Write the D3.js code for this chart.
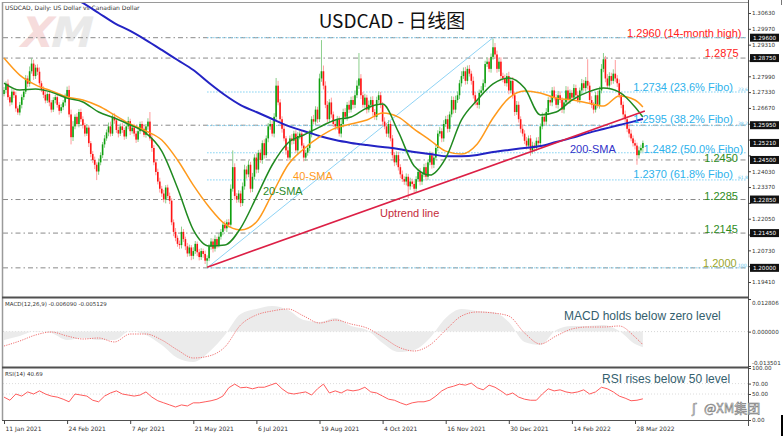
<!DOCTYPE html>
<html>
<head>
<meta charset="utf-8">
<script src="https://cdn.jsdelivr.net/npm/d3@7"></script>
<style>
  body { margin: 0; background: #fff; }
  svg { display: block; }
</style>
</head>
<body>
<div id="wrapper"></div>
<script>
// ---- data ----
// daily closes, bar 0 = 11 Jan 2021
const firstOpen = 1.2725;
const closes = [
  1.2742, 1.2768, 1.2712, 1.2690, 1.2735, 1.2720, 1.2665, 1.2648, 1.2680, 1.2712,
  1.2735, 1.2790, 1.2768, 1.2820, 1.2852, 1.2800, 1.2835, 1.2818, 1.2770, 1.2745,
  1.2722, 1.2698, 1.2725, 1.2690, 1.2660, 1.2700, 1.2712, 1.2680, 1.2655, 1.2670,
  1.2690, 1.2715, 1.2742, 1.2640, 1.2545, 1.2590, 1.2630, 1.2600, 1.2650, 1.2620,
  1.2595, 1.2560, 1.2585, 1.2520, 1.2475, 1.2450, 1.2430, 1.2402, 1.2440, 1.2470,
  1.2515, 1.2540, 1.2565, 1.2590, 1.2560, 1.2630, 1.2615, 1.2575, 1.2560, 1.2590,
  1.2575, 1.2548, 1.2590, 1.2612, 1.2570, 1.2585, 1.2560, 1.2535, 1.2570, 1.2600,
  1.2580, 1.2555, 1.2590, 1.2610, 1.2540, 1.2500, 1.2440, 1.2400, 1.2360, 1.2330,
  1.2310, 1.2285, 1.2335, 1.2300, 1.2280, 1.2190, 1.2150, 1.2125, 1.2100, 1.2095,
  1.2150, 1.2120, 1.2090, 1.2060, 1.2085, 1.2050, 1.2070, 1.2100, 1.2065, 1.2045,
  1.2070, 1.2058, 1.2030, 1.2040, 1.2090, 1.2110, 1.2080, 1.2120, 1.2095, 1.2130,
  1.2150, 1.2180, 1.2165, 1.2190, 1.2180, 1.2330, 1.2420, 1.2300, 1.2285, 1.2310,
  1.2270, 1.2340, 1.2410, 1.2390, 1.2430, 1.2330, 1.2380, 1.2460, 1.2410, 1.2480,
  1.2450, 1.2520, 1.2470, 1.2540, 1.2590, 1.2600, 1.2560, 1.2630, 1.2760, 1.2690,
  1.2620, 1.2580, 1.2540, 1.2490, 1.2460, 1.2540, 1.2530, 1.2560, 1.2490, 1.2550,
  1.2560, 1.2510, 1.2460, 1.2480, 1.2500, 1.2560, 1.2620, 1.2610, 1.2660, 1.2620,
  1.2790, 1.2820, 1.2760, 1.2680, 1.2620, 1.2690, 1.2640, 1.2600, 1.2590, 1.2620,
  1.2560, 1.2600, 1.2650, 1.2630, 1.2680, 1.2660, 1.2700, 1.2680, 1.2720, 1.2760,
  1.2790, 1.2720, 1.2680, 1.2710, 1.2660, 1.2680, 1.2700, 1.2650, 1.2630, 1.2700,
  1.2720, 1.2680, 1.2610, 1.2590, 1.2560, 1.2600, 1.2540, 1.2470, 1.2440, 1.2470,
  1.2420, 1.2390, 1.2370, 1.2360, 1.2380, 1.2340, 1.2360, 1.2350, 1.2330, 1.2370,
  1.2400, 1.2360, 1.2390, 1.2420, 1.2380, 1.2440, 1.2470, 1.2430, 1.2460, 1.2500,
  1.2560, 1.2570, 1.2540, 1.2600, 1.2620, 1.2580, 1.2640, 1.2700, 1.2660, 1.2700,
  1.2720, 1.2770, 1.2800, 1.2820, 1.2780, 1.2830, 1.2810, 1.2780, 1.2720, 1.2690,
  1.2680, 1.2730, 1.2740, 1.2770, 1.2850, 1.2860, 1.2830, 1.2880, 1.2920, 1.2890,
  1.2830, 1.2860, 1.2800, 1.2790, 1.2770, 1.2800, 1.2740, 1.2780, 1.2720, 1.2650,
  1.2680, 1.2620, 1.2580, 1.2560, 1.2530, 1.2510, 1.2540, 1.2490, 1.2510, 1.2500,
  1.2530, 1.2520, 1.2590, 1.2630, 1.2610, 1.2650, 1.2700, 1.2690, 1.2740, 1.2710,
  1.2680, 1.2720, 1.2700, 1.2660, 1.2690, 1.2740, 1.2700, 1.2730, 1.2710, 1.2750,
  1.2720, 1.2700, 1.2740, 1.2770, 1.2750, 1.2780, 1.2760, 1.2700, 1.2680, 1.2660,
  1.2720, 1.2680, 1.2740, 1.2830, 1.2870, 1.2790, 1.2760, 1.2800, 1.2780, 1.2810,
  1.2790, 1.2770, 1.2720, 1.2680, 1.2640, 1.2620, 1.2580, 1.2560, 1.2540, 1.2520,
  1.2510, 1.2470, 1.2490, 1.2500, 1.2521
];
// upper / lower shadows in pips
const wickHi = [
  12,10,18,8,14,10,15,9,12,11, 8,14,12,20,23,16,12,14,18,10, 12,15,8,14,10,12,9,16,11,13,
  10,12,14,18,20,22,10,15,12,14, 12,10,15,11,9,12,14,10,16,12, 10,14,12,16,20,12,15,10,14,12,
  14,10,12,18,10,13,16,11,12,10, 12,15,10,14,40,18,12,10,14,16, 12,15,10,12,14,10,12,16,10,14,
  22,12,10,14,12,10,16,12,10,14, 12,10,14,12,10,14,12,16,10,14, 12,10,16,12,14,18,70,16,12,14,
  12,16,20,14,18,12,16,14,18,12, 14,12,16,12,14,18,12,15,32,20, 14,12,16,10,14,12,18,12,14,16,
  12,14,10,12,14,16,12,18,14,12, 20,130,24,18,16,14,20,12,16,14, 12,18,14,16,12,18,14,16,20,22,
  106,18,14,16,12,18,14,16,12,14, 16,14,12,18,14,16,12,14,12,16, 14,12,16,12,14,12,16,12,14,12,
  14,16,12,14,18,12,16,14,12,16, 14,18,12,16,14,18,12,16,14,18, 16,14,20,16,18,14,16,12,18,14,
  16,14,18,16,14,18,16,14,35,18, 16,14,18,14,16,12,18,14,16,14, 16,14,12,18,14,16,12,14,16,12,
  14,16,12,18,14,16,12,18,14,16, 14,18,16,12,14,18,16,14,12,16, 14,16,12,18,14,16,90,14,16,12,
  14,18,16,20,26,14,18,16,14,18, 57,14,16,12,14,16,12,14,16,12, 14,12,16,14,10
];
const wickLo = [
  10,14,12,16,10,12,14,10,12,15, 12,10,14,12,10,16,12,14,10,12, 14,12,10,16,12,10,14,12,16,10,
  12,14,10,12,30,16,12,10,14,12, 14,12,10,16,14,12,18,36,14,12, 12,14,10,16,12,10,14,12,16,10,
  12,14,10,12,16,10,12,14,10,12, 14,10,12,14,10,16,12,14,12,16, 14,12,16,10,14,12,18,14,12,16,
  14,12,16,14,12,18,14,12,16,14, 12,16,14,30,12,14,16,12,14,10, 12,14,10,16,12,14,12,16,14,12,
  16,12,14,18,12,16,14,12,16,14, 12,16,14,12,16,14,12,16,14,12, 14,16,12,18,14,12,16,14,12,16,
  14,12,16,14,12,14,16,12,14,16, 12,14,16,14,12,16,14,12,16,14, 12,16,14,12,16,14,12,16,14,12,
  14,16,12,14,16,12,14,16,12,14, 12,14,16,12,14,16,12,14,16,12, 14,16,12,14,16,50,14,12,16,14,
  12,16,14,12,16,14,12,16,14,12, 14,12,16,14,12,16,14,12,16,14, 12,16,14,12,16,14,12,16,14,12,
  14,16,12,14,16,12,14,16,12,14, 16,12,14,16,12,14,16,12,14,16, 12,14,16,12,14,16,12,22,14,16,
  12,14,16,12,14,16,12,14,16,12, 14,16,12,14,16,12,14,16,12,14, 16,12,14,16,12,14,16,12,14,16,
  12,14,16,12,14,16,12,14,16,12, 14,16,12,14,16,12,14,16,12,14, 16,40,14,12,16
];

const dateLabels = ["11 Jan 2021", "24 Feb 2021", "7 Apr 2021", "21 May 2021", "6 Jul 2021",
  "19 Aug 2021", "4 Oct 2021", "16 Nov 2021", "30 Dec 2021", "14 Feb 2022", "28 Mar 2022"];
const dateTicks = [0, 32, 64, 96, 128, 160, 192, 224, 256, 288, 320];

// moving averages, sampled every 8 bars (last sample = bar 324)
const maIdx = [0,8,16,24,32,40,48,56,64,72,80,88,96,104,112,120,128,136,144,152,160,
  168,176,184,192,200,208,216,224,232,240,248,256,264,272,280,288,296,304,312,320,324];
const sma20 = [1.2771,1.2742,1.2746,1.2733,1.2708,1.2692,1.2650,1.2625,1.2596,1.2562,1.2487,
  1.2333,1.2158,1.2091,1.2095,1.2166,1.2295,1.2429,1.2521,1.2554,1.2587,1.2617,1.2629,1.2667,
  1.2683,1.2567,1.2425,1.2387,1.2458,1.2617,1.2700,1.2767,1.2792,1.2750,1.2638,1.2650,1.2700,
  1.2733,1.2750,1.2733,1.2671,1.2629];
const sma40 = [1.2875,1.2804,1.2763,1.2738,1.2713,1.2700,1.2675,1.2638,1.2600,1.2571,1.2533,
  1.2450,1.2345,1.2254,1.2183,1.2158,1.2191,1.2308,1.2429,1.2496,1.2546,1.2583,1.2600,1.2617,
  1.2646,1.2629,1.2579,1.2533,1.2487,1.2475,1.2517,1.2625,1.2708,1.2738,1.2729,1.2708,1.2700,
  1.2688,1.2675,1.2717,1.2700,1.2671];
const sma200 = [1.3305,1.3263,1.3222,1.3184,1.3142,1.3105,1.3063,1.3021,1.2988,1.2950,1.2909,
  1.2867,1.2825,1.2771,1.2721,1.2679,1.2650,1.2621,1.2592,1.2571,1.2550,1.2533,1.2521,1.2512,
  1.2504,1.2496,1.2483,1.2475,1.2466,1.2466,1.2471,1.2483,1.2492,1.2500,1.2508,1.2525,1.2542,
  1.2562,1.2579,1.2596,1.2612,1.2621];

// MACD(12,26,9), same sampling as the averages
const macdMain = [-0.00329,-0.00172,0.00024,-0.00054,-0.00329,-0.00251,-0.00329,-0.00329,0.00024,
  -0.00133,-0.00525,-0.01036,-0.01193,-0.00800,-0.00133,0.00692,0.00888,0.01006,0.00849,0.00456,
  0.00378,0.00535,0.00221,0.00064,-0.00446,-0.00800,-0.00721,-0.00251,0.00535,0.00888,0.00810,
  0.00771,0.00378,-0.00407,-0.00525,0.00064,0.00221,0.00221,0.00260,0.00024,-0.00486,-0.00609];
const macdSignal = [-0.00565,-0.00368,-0.00133,-0.00015,-0.00172,-0.00290,-0.00251,-0.00407,
  -0.00094,-0.00094,-0.00329,-0.00722,-0.01036,-0.00957,-0.00604,0.00260,0.00653,0.00810,0.00888,
  0.00613,0.00338,0.00456,0.00299,0.00142,-0.00211,-0.00604,-0.00761,-0.00525,0.00064,0.00613,
  0.00771,0.00731,0.00613,-0.00054,-0.00486,-0.00172,0.00103,0.00181,0.00181,0.00221,-0.00211,-0.005129];

// RSI(14), every 3rd bar
const rsiStep = 3;
const rsi = [44,38,50,46,54,50,56,50,46,44, 40,35,50,48,46,38,35,46,52,56,
  50,48,46,48,54,44,37,33,29,25, 29,27,33,33,35,37,40,46,62,69,
  62,63,60,63,63,67,71,60,52,50, 52,54,48,60,69,52,56,52,58,56,
  58,63,54,52,46,40,38,33,29,33, 35,35,38,46,56,62,65,69,67,71,
  62,58,67,63,56,48,52,44,40,38, 38,50,60,56,58,54,52,54,58,50,
  54,63,60,54,46,42,37,38,40.69];

// price scale ticks; the ones hidden behind tags in the picture get no label
const priceTicks = [1.30630,1.29970,1.29310,1.28650,1.27990,1.27330,1.26670,1.26010,1.25350,
  1.24690,1.24030,1.23370,1.22710,1.22050,1.21390,1.20730,1.20070,1.19410];
const hiddenTicks = [1.28650, 1.26010, 1.25350, 1.24690, 1.22710, 1.21390, 1.20070];
const levels = [1.2960, 1.2875, 1.2595, 1.2450, 1.2285, 1.2145, 1.2000];
const fiboLow = {i: 103, p: 1.2000};
const fiboHigh = {i: 248, p: 1.2960};
const fiboPct = [0, 23.6, 38.2, 50.0, 61.8, 100.0];
const fiboTagged = [23.6, 38.2, 61.8, 100.0];
const uptrend = [{i: 103, p: 1.2003}, {i: 325, p: 1.2654}];

const notes = [
  {t: "1.2960 (14-month high)", i: 374, p: 1.2963, c: "#ff2020", a: "end"},
  {t: "1.2875", i: 372.5, p: 1.2879, c: "#ff2020", a: "end"},
  {t: "1.2734 (23.6% Fibo)", i: 369.7, p: 1.2738, c: "#2db2ec", a: "end"},
  {t: "1.2595 (38.2% Fibo)", i: 369.7, p: 1.2606, c: "#2db2ec", a: "end"},
  {t: "1.2482 (50.0% Fibo)", i: 374.8, p: 1.2481, c: "#2db2ec", a: "end"},
  {t: "1.2450", i: 372.2, p: 1.2442, c: "#2e8c1c", a: "end"},
  {t: "1.2370 (61.8% Fibo)", i: 369.7, p: 1.2375, c: "#2db2ec", a: "end"},
  {t: "1.2285", i: 372.2, p: 1.2283, c: "#2e8c1c", a: "end"},
  {t: "1.2145", i: 372.2, p: 1.2145, c: "#2e8c1c", a: "end"},
  {t: "1.2000", i: 371.6, p: 1.2004, c: "#9aa62c", a: "end"},
  {t: "200-SMA", i: 287, p: 1.2479, c: "#3232c8", a: "start"},
  {t: "40-SMA", i: 146.6, p: 1.2366, c: "#ff9a1c", a: "start"},
  {t: "20-SMA", i: 131.3, p: 1.2304, c: "#2a8a2a", a: "start"},
  {t: "Uptrend line", i: 190.7, p: 1.2212, c: "#c42b3a", a: "start"}
];

// ---- drawing ----
const width = 783, height = 436;
const svg = d3.select("#wrapper").append("svg")
  .attr("width", width).attr("height", height)
  .style("background", "#fff");

const x = d3.scaleLinear().domain([0, 320]).range([4, 635]);
const yP = d3.scaleLinear().domain([1.19410, 1.30630]).range([282, 13]);
const yM = d3.scaleLinear().domain([-0.013501, 0.012806]).range([366, 299]);
const yR = d3.scaleLinear().domain([0, 100]).range([420, 368]);

const defs = svg.append("defs");
[["clipMain", 3, 3, 745, 293], ["clipMacd", 3, 299, 745, 67], ["clipRsi", 3, 369, 745, 51]]
  .forEach(c => defs.append("clipPath").attr("id", c[0])
    .append("rect").attr("x", c[1]).attr("y", c[2]).attr("width", c[3]).attr("height", c[4]));

// watermark logo
const logo = svg.append("g").attr("transform", "translate(18,47) skewX(-14)")
  .style("font-family", "DejaVu Sans").style("font-weight", "bold").style("font-size", "42px");
logo.append("text").attr("x", 0).text("X").attr("fill", "#f6dcdc");
logo.append("text").attr("x", 30).text("M").attr("fill", "#e9e9e9");

// header texts
svg.append("text").attr("x", 5).attr("y", 10)
  .style("font", "6px 'DejaVu Sans'").attr("fill", "#333")
  .text("USDCAD, Daily:  US Dollar vs Canadian Dollar");
svg.append("text").attr("x", 392).attr("y", 28).attr("text-anchor", "middle")
  .style("font-family", "'Noto Sans CJK SC', sans-serif").style("font-size", "19px")
  .attr("fill", "#111").text("USDCAD - 日线图");

const main = svg.append("g").attr("clip-path", "url(#clipMain)");

// horizontal support / resistance lines
main.selectAll("line.level").data(levels).enter().append("line")
  .attr("class", "level")
  .attr("x1", 3).attr("x2", 748)
  .attr("y1", d => yP(d)).attr("y2", d => yP(d))
  .attr("stroke", "#8a8a8a").attr("stroke-width", 1)
  .attr("stroke-dasharray", "5,3,1.5,3");

// fibonacci retracement
const fibo = fiboPct.map(p => ({pct: p, price: fiboHigh.p - p / 100 * (fiboHigh.p - fiboLow.p)}));
main.selectAll("line.fibo").data(fibo).enter().append("line")
  .attr("class", "fibo")
  .attr("x1", x(fiboLow.i)).attr("x2", 746)
  .attr("y1", d => yP(d.price)).attr("y2", d => yP(d.price))
  .attr("stroke", "#7fd0f2").attr("stroke-width", 1)
  .attr("stroke-dasharray", "1.5,1.5");
main.append("line")
  .attr("x1", x(fiboLow.i)).attr("y1", yP(fiboLow.p))
  .attr("x2", x(fiboHigh.i)).attr("y2", yP(fiboHigh.p))
  .attr("stroke", "#8fd3f5").attr("stroke-width", 1);
main.selectAll("text.fibo").data(fibo.filter(d => fiboTagged.includes(d.pct))).enter().append("text")
  .attr("class", "fibo")
  .attr("x", x(372.2)).attr("y", d => yP(d.price) - 1)
  .style("font", "4.5px 'DejaVu Sans'").attr("fill", "#5cc4ee")
  .text(d => d.pct.toFixed(1));

// candles
const candles = closes.map((c, i) => {
  const o = i ? closes[i - 1] : firstOpen;
  return {i: i, o: o, c: c,
    hi: Math.max(o, c) + wickHi[i] / 10000,
    lo: Math.min(o, c) - wickLo[i] / 10000};
});
const cg = main.append("g");
cg.selectAll("line").data(candles).enter().append("line")
  .attr("x1", d => x(d.i)).attr("x2", d => x(d.i))
  .attr("y1", d => yP(d.hi)).attr("y2", d => yP(d.lo))
  .attr("stroke", d => d.c >= d.o ? "#8ccf8c" : "#ff9c9c").attr("stroke-width", 1);
cg.selectAll("rect").data(candles).enter().append("rect")
  .attr("x", d => x(d.i) - 0.8).attr("width", 1.6)
  .attr("y", d => yP(Math.max(d.o, d.c)))
  .attr("height", d => Math.max(1, yP(Math.min(d.o, d.c)) - yP(Math.max(d.o, d.c))))
  .attr("fill", d => d.c >= d.o ? "#0fa00f" : "#ff1414");

// moving averages
const maLine = d3.line().x((d, k) => x(maIdx[k])).y(d => yP(d)).curve(d3.curveMonotoneX);
main.append("path").datum(sma200).attr("d", maLine)
  .attr("fill", "none").attr("stroke", "#2323c4").attr("stroke-width", 2);
main.append("path").datum(sma40).attr("d", maLine)
  .attr("fill", "none").attr("stroke", "#ff9a1c").attr("stroke-width", 1.5);
main.append("path").datum(sma20).attr("d", maLine)
  .attr("fill", "none").attr("stroke", "#208a20").attr("stroke-width", 1.5);

// uptrend line
main.append("line")
  .attr("x1", x(uptrend[0].i)).attr("y1", yP(uptrend[0].p))
  .attr("x2", x(uptrend[1].i)).attr("y2", yP(uptrend[1].p))
  .attr("stroke", "#dc1f45").attr("stroke-width", 1.6);

// annotations
svg.selectAll("text.note").data(notes).enter().append("text")
  .attr("class", "note")
  .attr("x", d => x(d.i)).attr("y", d => yP(d.p))
  .attr("text-anchor", d => d.a)
  .style("font-family", "'Liberation Sans', Arial, sans-serif").style("font-size", "11px")
  .attr("fill", d => d.c).text(d => d.t);

// ---- MACD panel ----
const macdG = svg.append("g").attr("clip-path", "url(#clipMacd)");
macdG.append("line").attr("x1", 3).attr("x2", 748).attr("y1", yM(0)).attr("y2", yM(0))
  .attr("stroke", "#d6d6d6").attr("stroke-dasharray", "1,2");
macdG.append("path").datum(macdMain)
  .attr("d", d3.area().x((d, k) => x(maIdx[k])).y0(yM(0)).y1(d => yM(d)).curve(d3.curveMonotoneX))
  .attr("fill", "#ebebeb");
macdG.append("path").datum(macdSignal)
  .attr("d", d3.line().x((d, k) => x(maIdx[k])).y(d => yM(d)).curve(d3.curveMonotoneX))
  .attr("fill", "none").attr("stroke", "#f07070").attr("stroke-width", 1)
  .attr("stroke-dasharray", "1.2,1.2");
svg.append("text").attr("x", 5).attr("y", 306)
  .style("font", "5.5px 'DejaVu Sans'").attr("fill", "#333")
  .text("MACD(12,26,9) -0.006090 -0.005129");
svg.append("text").attr("x", x(284)).attr("y", yM(0.00471))
  .style("font-family", "'Liberation Sans', Arial, sans-serif").style("font-size", "12px")
  .attr("fill", "#34606e").text("MACD holds below zero level");

// ---- RSI panel ----
const rsiG = svg.append("g").attr("clip-path", "url(#clipRsi)");
[70, 50].forEach(l => rsiG.append("line").attr("x1", 3).attr("x2", 748)
  .attr("y1", yR(l)).attr("y2", yR(l))
  .attr("stroke", "#dcdcdc").attr("stroke-dasharray", "1,2"));
rsiG.append("path").datum(rsi)
  .attr("d", d3.line().x((d, k) => x(k * rsiStep)).y(d => yR(d)))
  .attr("fill", "none").attr("stroke", "#ff5c5c").attr("stroke-width", 1);
svg.append("text").attr("x", 5).attr("y", 376)
  .style("font", "5.5px 'DejaVu Sans'").attr("fill", "#333")
  .text("RSI(14) 40.69");
svg.append("text").attr("x", x(303.3)).attr("y", yR(71.2))
  .style("font-family", "'Liberation Sans', Arial, sans-serif").style("font-size", "12px")
  .attr("fill", "#34606e").text("RSI rises below 50 level");

// ---- frame ----
const frame = svg.append("g").attr("fill", "none");
frame.append("line").attr("x1", 2).attr("x2", 748).attr("y1", 2.5).attr("y2", 2.5).attr("stroke", "#9a9a9a");
frame.append("line").attr("x1", 2.5).attr("x2", 2.5).attr("y1", 2).attr("y2", 420).attr("stroke", "#9a9a9a").attr("stroke-width", 1.5);
[297.5, 367.5].forEach(yy => frame.append("line").attr("x1", 2).attr("x2", 748)
  .attr("y1", yy).attr("y2", yy).attr("stroke", "#505050").attr("stroke-width", 2));
frame.append("line").attr("x1", 2).attr("x2", 748).attr("y1", 420.5).attr("y2", 420.5).attr("stroke", "#505050");
frame.append("line").attr("x1", 748.5).attr("x2", 748.5).attr("y1", 0).attr("y2", 426).attr("stroke", "#505050");

// ---- axes ----
function styleAxis(g, size) {
  g.select(".domain").remove();
  g.selectAll("line").attr("stroke", "#444");
  g.selectAll("text").style("font-family", "'DejaVu Sans'").style("font-size", size).attr("fill", "#333");
}
svg.append("g").attr("transform", "translate(748,0)")
  .call(d3.axisRight(yP).tickValues(priceTicks).tickSize(3).tickPadding(1)
    .tickFormat(d => hiddenTicks.includes(d) ? "" : d.toFixed(5)))
  .call(g => styleAxis(g, "5.6px"));

svg.append("g").attr("transform", "translate(748,0)")
  .call(d3.axisRight(yM).tickValues([0.012806, 0, -0.013501]).tickSize(3).tickPadding(1).tickFormat(d => d.toFixed(6)))
  .call(g => styleAxis(g, "5.6px"))
  .call(g => g.selectAll(".tick text").attr("dy", (d) => d > 0 ? "0.9em" : d < 0 ? "-0.2em" : "0.32em"));

svg.append("g").attr("transform", "translate(748,0)")
  .call(d3.axisRight(yR).tickValues([100, 70, 50, 0]).tickSize(3).tickPadding(1).tickFormat(d => d.toFixed(2)))
  .call(g => styleAxis(g, "5.6px"));

svg.append("g").attr("transform", "translate(0,420)")
  .call(d3.axisBottom(x).tickValues(dateTicks).tickSize(4).tickFormat((d, k) => dateLabels[k]))
  .call(g => styleAxis(g, "6px"))
  .call(g => g.selectAll(".tick text").attr("text-anchor", "start").attr("dx", 1));

// black price tags on the axis (line levels + last price)
const tags = levels.concat([closes[closes.length - 1]]);
const tagG = svg.append("g");
tagG.selectAll("rect").data(tags).enter().append("rect")
  .attr("x", 750).attr("y", d => yP(d) - 4).attr("width", 29).attr("height", 8)
  .attr("fill", "#111");
tagG.selectAll("text").data(tags).enter().append("text")
  .attr("x", 764.5).attr("y", d => yP(d) + 2).attr("text-anchor", "middle")
  .style("font", "5.6px 'DejaVu Sans'").attr("fill", "#fff")
  .text(d => d.toFixed(5));

// bottom-right watermark and corner marks
svg.append("text").attr("x", 692).attr("y", 413)
  .style("font-family", "'DejaVu Sans'").style("font-size", "13px")
  .attr("fill", "#fff").attr("stroke", "#7a7a7a").attr("stroke-width", 0.6)
  .text("ʃ");
svg.append("text").attr("x", 704).attr("y", 413)
  .style("font-family", "'Noto Sans CJK SC', sans-serif").style("font-size", "13px")
  .attr("fill", "#fff").attr("stroke", "#7a7a7a").attr("stroke-width", 0.6)
  .text("@XM集团");
svg.append("rect").attr("x", 781).attr("y", 415).attr("width", 2).attr("height", 21).attr("fill", "#000");
svg.append("rect").attr("x", 781).attr("y", 0).attr("width", 1).attr("height", 5).attr("fill", "#777");
</script>
</body>
</html>
